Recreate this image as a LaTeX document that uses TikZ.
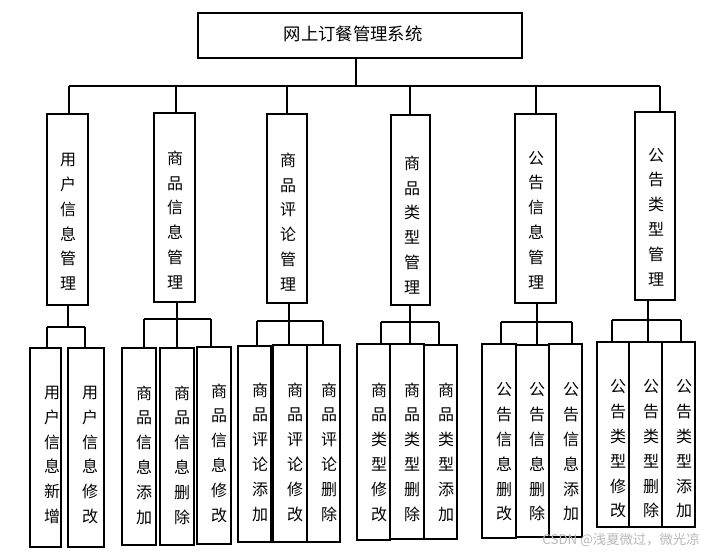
\documentclass[tikz,border=0pt]{standalone}
\usepackage{fontspec}
\setmainfont{Noto Sans CJK SC}
\usetikzlibrary{fit}
\begin{document}
\begin{tikzpicture}[x=0.75pt,y=-0.75pt,line width=0.8pt,
  bx/.style={draw,inner sep=0pt},
  vt/.style={align=center,inner sep=0pt,font=\fontsize{12}{18.6}\selectfont},
  wm/.style={text=black!28,font=\fontsize{10}{12}\selectfont,inner sep=0pt}]
\useasboundingbox (0,0) rectangle (710,552);
% main
\node[bx,fit={(198,13) (522,58)}] (M) {};
\node[inner sep=0pt,font=\fontsize{13}{15}\selectfont] (Mt) at (353,34) {网上订餐管理系统};
% level 1
\node[bx,fit={(47,114) (88,305)}] (A) {};
\node[bx,fit={(154,113) (195,302)}] (B) {};
\node[bx,fit={(267,114) (307,303)}] (C) {};
\node[bx,fit={(391,115) (430,305)}] (D) {};
\node[bx,fit={(515,114) (556,303)}] (E) {};
\node[bx,fit={(635,112) (675,300)}] (F) {};
\node[vt] (At) at (68,222) {用\\户\\信\\息\\管\\理};
\node[vt] (Bt) at (175,220) {商\\品\\信\\息\\管\\理};
\node[vt] (Ct) at (288,222) {商\\品\\评\\论\\管\\理};
\node[vt] (Dt) at (412,225) {商\\品\\类\\型\\管\\理};
\node[vt] (Et) at (536,220) {公\\告\\信\\息\\管\\理};
\node[vt] (Ft) at (656,217) {公\\告\\类\\型\\管\\理};
% top connectors
\coordinate (Mj) at (356,86);
\coordinate (Ad) at (69,86);
\coordinate (Bd) at (176,86);
\coordinate (Cd) at (287,86);
\coordinate (Dd) at (410,86);
\coordinate (Ed) at (536,86);
\coordinate (Fd) at (660,86);
\draw (M.south -| Mj) -- (Mj);
\draw (Ad) -- (Fd);
\foreach \n in {A,B,C,D,E,F}{\draw (\n d) -- (\n.north -| \n d);}
% level 2 boxes
\node[bx,fit={(30,348) (61,547)}] (A1) {};
\node[bx,fit={(68,348) (104,547)}] (A2) {};
\node[bx,fit={(122,348) (156,545)}] (B1) {};
\node[bx,fit={(160,348) (194,545)}] (B2) {};
\node[bx,fit={(197,347) (231,544)}] (B3) {};
\node[bx,fit={(238,346) (271,542)}] (C1) {};
\node[bx,fit={(273,345) (307,542)}] (C2) {};
\node[bx,fit={(307,345) (340,542)}] (C3) {};
\node[bx,fit={(357,344) (390,540)}] (D1) {};
\node[bx,fit={(390,344) (424,539)}] (D2) {};
\node[bx,fit={(424,345) (457,539)}] (D3) {};
\node[bx,fit={(482,344) (516,538)}] (E1) {};
\node[bx,fit={(516,345) (549,537)}] (E2) {};
\node[bx,fit={(549,344) (582,537)}] (E3) {};
\node[bx,fit={(597,342) (629,527)}] (F1) {};
\node[bx,fit={(629,342) (662,527)}] (F2) {};
\node[bx,fit={(662,342) (695,527)}] (F3) {};
\node[vt] (A1t) at (52,455) {用\\户\\信\\息\\新\\增};
\node[vt] (A2t) at (90,455) {用\\户\\信\\息\\修\\改};
\node[vt] (B1t) at (144,455) {商\\品\\信\\息\\添\\加};
\node[vt] (B2t) at (182,455) {商\\品\\信\\息\\删\\除};
\node[vt] (B3t) at (219,453) {商\\品\\信\\息\\修\\改};
\node[vt] (C1t) at (260,452) {商\\品\\评\\论\\添\\加};
\node[vt] (C2t) at (295,452) {商\\品\\评\\论\\修\\改};
\node[vt] (C3t) at (329,452) {商\\品\\评\\论\\删\\除};
\node[vt] (D1t) at (379,452) {商\\品\\类\\型\\修\\改};
\node[vt] (D2t) at (412,452) {商\\品\\类\\型\\删\\除};
\node[vt] (D3t) at (446,452) {商\\品\\类\\型\\添\\加};
\node[vt] (E1t) at (504,452) {公\\告\\信\\息\\删\\改};
\node[vt] (E2t) at (537,452) {公\\告\\信\\息\\删\\除};
\node[vt] (E3t) at (571,452) {公\\告\\信\\息\\添\\加};
\node[vt] (F1t) at (618,449) {公\\告\\类\\型\\修\\改};
\node[vt] (F2t) at (651,449) {公\\告\\类\\型\\删\\除};
\node[vt] (F3t) at (684,449) {公\\告\\类\\型\\添\\加};
% level 2 connectors
\coordinate (Aj) at (68,327);
\coordinate (A1d) at (47,327); \coordinate (A2d) at (85,327);
\draw (A.south -| Aj) -- (Aj);
\draw (A1d) -- (A2d);
\draw (A1d) -- (A1.north -| A1d);
\draw (A2d) -- (A2.north -| A2d);
\coordinate (Bj) at (177,319);
\coordinate (B1d) at (144,319); \coordinate (B3d) at (211,319);
\draw (B.south -| Bj) -- (B2.north -| Bj);
\draw (B1d) -- (B3d);
\draw (B1d) -- (B1.north -| B1d);
\draw (B3d) -- (B3.north -| B3d);
\coordinate (Cj) at (289,321);
\coordinate (C1d) at (257,321); \coordinate (C3d) at (323,321);
\draw (C.south -| Cj) -- (C2.north -| Cj);
\draw (C1d) -- (C3d);
\draw (C1d) -- (C1.north -| C1d);
\draw (C3d) -- (C3.north -| C3d);
\coordinate (Dj) at (410,322);
\coordinate (D1d) at (381,322); \coordinate (D3d) at (439,322);
\draw (D.south -| Dj) -- (D2.north -| Dj);
\draw (D1d) -- (D3d);
\draw (D1d) -- (D1.north -| D1d);
\draw (D3d) -- (D3.north -| D3d);
\coordinate (Ej) at (537,322);
\coordinate (E1d) at (501,322); \coordinate (E3d) at (572,322);
\draw (E.south -| Ej) -- (E2.north -| Ej);
\draw (E1d) -- (E3d);
\draw (E1d) -- (E1.north -| E1d);
\draw (E3d) -- (E3.north -| E3d);
\coordinate (Fj) at (648,320);
\coordinate (F1d) at (612,320); \coordinate (F3d) at (681,320);
\draw (F.south -| Fj) -- (F2.north -| Fj);
\draw (F1d) -- (F3d);
\draw (F1d) -- (F1.north -| F1d);
\draw (F3d) -- (F3.north -| F3d);
% watermark
\node[wm] (W) at (621,540) {CSDN @浅夏微过，微光凉};
\end{tikzpicture}
\end{document}
